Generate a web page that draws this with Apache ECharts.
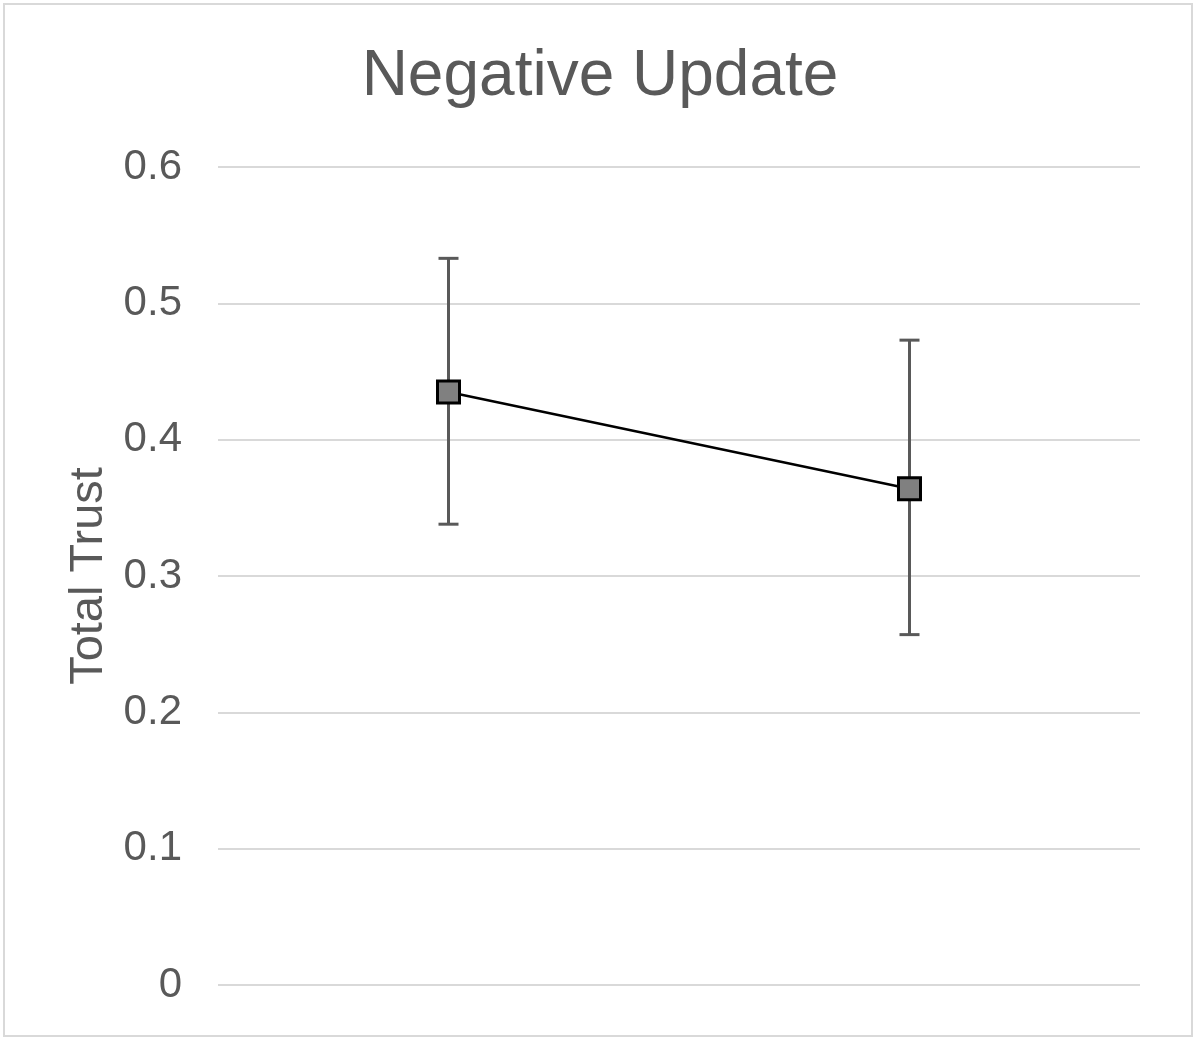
<!DOCTYPE html>
<html>
<head>
<meta charset="utf-8">
<script src="https://cdn.jsdelivr.net/npm/echarts@6/dist/echarts.min.js"></script>
<style>html,body{margin:0;padding:0;background:#fff;}#c{width:1200px;height:1045px;}</style>
</head>
<body>
<div id="c"></div>
<script>
var categories = ['A', 'B'];
var means = [0.435, 0.364];
var upper = [0.533, 0.473];
var lower = [0.338, 0.257];
var yTicks = [0, 0.1, 0.2, 0.3, 0.4, 0.5, 0.6];

var chart = echarts.init(document.getElementById('c'));
var errData = categories.map(function (c, i) { return [i, lower[i], upper[i]]; });
chart.setOption({
  animation: false,
  title: {
    text: 'Negative Update', left: 'center', top: 40,
    textStyle: { fontFamily: 'Liberation Sans, Arial', fontSize: 64, fontWeight: 'normal', color: '#595959' }
  },
  graphic: [{
    type: 'rect', shape: { x: 4, y: 4, width: 1188, height: 1032 },
    style: { fill: 'none', stroke: '#d9d9d9', lineWidth: 2 }, silent: true, z: -1
  }],
  grid: { left: 218, right: 60, top: 167, bottom: 60 },
  xAxis: {
    type: 'category', data: categories, boundaryGap: true,
    axisLine: { show: false }, axisTick: { show: false }, axisLabel: { show: false }
  },
  yAxis: {
    type: 'value', min: 0, max: 0.6, interval: 0.1,
    name: 'Total Trust', nameLocation: 'middle', nameGap: 105, nameRotate: 90,
    nameTextStyle: { fontFamily: 'Liberation Sans, Arial', fontSize: 47, color: '#595959' },
    axisLine: { show: false }, axisTick: { show: false },
    axisLabel: { fontFamily: 'Liberation Sans, Arial', fontSize: 42, color: '#595959', margin: 36,
      formatter: function (v) { return String(Math.round(v * 10) / 10); } },
    splitLine: { lineStyle: { color: '#d9d9d9', width: 2 } }
  },
  series: [{
    type: 'custom', data: errData, z: 2,
    renderItem: function (params, api) {
      var x = api.value(0);
      var lo = api.coord([x, api.value(1)]);
      var hi = api.coord([x, api.value(2)]);
      var hw = 10;
      var st = { stroke: '#595959', lineWidth: 3 };
      return { type: 'group', children: [
        { type: 'line', shape: { x1: lo[0], y1: lo[1], x2: hi[0], y2: hi[1] }, style: st },
        { type: 'line', shape: { x1: hi[0] - hw, y1: hi[1], x2: hi[0] + hw, y2: hi[1] }, style: st },
        { type: 'line', shape: { x1: lo[0] - hw, y1: lo[1], x2: lo[0] + hw, y2: lo[1] }, style: st }
      ]};
    }
  }, {
    type: 'line', data: means, z: 3,
    symbol: 'rect', symbolSize: 22,
    lineStyle: { color: '#000', width: 2.5 },
    itemStyle: { color: '#808080', borderColor: '#000', borderWidth: 3 }
  }]
});
</script>
</body>
</html>
